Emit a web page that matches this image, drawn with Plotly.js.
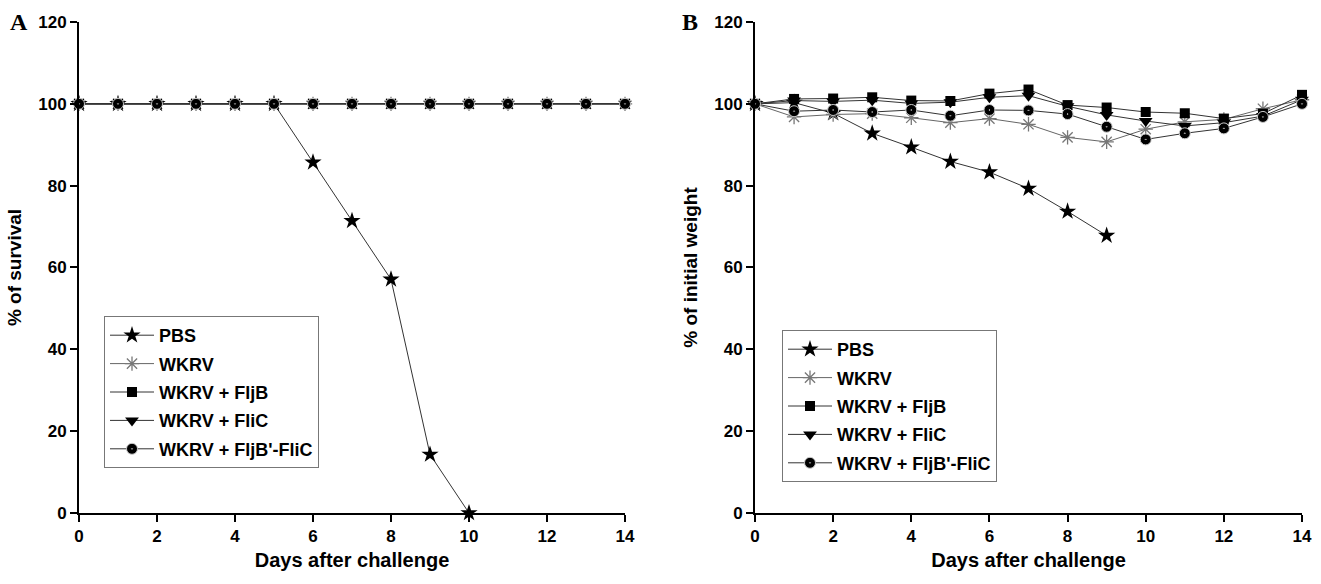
<!DOCTYPE html>
<html><head><meta charset="utf-8">
<script src="https://cdn.plot.ly/plotly-3.0.1.min.js"></script>
<style>body{margin:0;background:#fff}#c{width:1321px;height:584px}</style>
</head><body><div id="c"></div>
<script>
const days = [0,1,2,3,4,5,6,7,8,9,10,11,12,13,14];
const groups = ["PBS","WKRV","WKRV + FljB","WKRV + FliC","WKRV + FljB'-FliC"];
// Panel A: survival (%)
const survPBS   = [100,100,100,100,100,100,85.7,71.4,57.1,14.3,0];
const survWKRV  = [100,100,100,100,100,100,100,100,100,100,100,100,100,100,100];
const survFljB  = [100,100,100,100,100,100,100,100,100,100,100,100,100,100,100];
const survFliC  = [100,100,100,100,100,100,100,100,100,100,100,100,100,100,100];
const survFusion= [100,100,100,100,100,100,100,100,100,100,100,100,100,100,100];
// Panel B: weight (% of initial)
const wPBS    = [100,100.3,97.7,92.8,89.4,85.9,83.3,79.3,73.7,67.8];
const wWKRV   = [100,96.8,97.4,97.6,96.6,95.4,96.4,95.0,91.8,90.7,93.8,95.6,96.2,98.8,101.0];
const wFljB   = [100,101.2,101.3,101.6,100.8,100.7,102.5,103.5,99.7,99.1,98.0,97.7,96.4,97.6,102.2];
const wFliC   = [100,100.8,100.6,100.9,100.1,100.4,101.6,102.0,99.4,97.3,95.8,94.6,95.4,97.0,101.0];
const wFusion = [100,98.2,98.5,98.0,98.5,97.1,98.5,98.4,97.5,94.4,91.3,92.8,94.0,96.8,100.0];

const styles = [
  {symbol:'star', color:'#000', size:13, lc:'#000', lw:0},
  {symbol:'asterisk-open', color:'#777', size:12, lc:'#777', lw:1.3},
  {symbol:'square', color:'#000', size:10, lc:'#000', lw:0},
  {symbol:'triangle-down', color:'#000', size:12, lc:'#000', lw:0},
  {symbol:'circle-dot', color:'#000', size:11, lc:'#ccc', lw:1}
];
const lineCol = ['#333','#666','#333','#333','#333'];

const survData = [survPBS, survWKRV, survFljB, survFliC, survFusion];
const wData = [wPBS, wWKRV, wFljB, wFliC, wFusion];

const traces = [];
function add(ydata, xa, ya, leg, suffix){
  ydata.forEach((ys,i)=>{
    const s = styles[i];
    traces.push({
      x: days.slice(0, ys.length), y: ys, xaxis: xa, yaxis: ya,
      type:'scatter', mode:'lines+markers', name: groups[i],
      legend: leg, legendgroup: suffix+i, cliponaxis:false,
      line:{color: lineCol[i], width:1},
      marker:{symbol:s.symbol, color:s.color, size:s.size, line:{color:s.lc, width:s.lw}}
    });
  });
}
add(survData,'x','y','legend','a');
add(wData,'x2','y2','legend2','b');

const fam = '"Liberation Sans Narrow","Arial Narrow","Liberation Sans",Arial,sans-serif';
const tickfont = {family:fam, size:17, color:'#000', weight:'bold'};
const titlefont = {family:fam, size:20, color:'#000', weight:'bold'};
function xax(dom){return {domain:dom, range:[0,14], dtick:2, tick0:0, showgrid:false, zeroline:false,
  showline:true, linewidth:2, linecolor:'#000', ticks:'outside', ticklen:7, tickwidth:2, tickcolor:'#000',
  tickfont:tickfont, title:{text:'Days after challenge', font:titlefont, standoff:8}, fixedrange:true};}
function yax(title, anchor){return {domain:[0.1216,0.9623], range:[0,120], dtick:20, showgrid:false, zeroline:false,
  showline:true, linewidth:2, linecolor:'#000', ticks:'outside', ticklen:7, tickwidth:2, tickcolor:'#000',
  tickfont:tickfont, title:{text:title, font:{family:fam,size:19,color:'#000',weight:'bold'}, standoff:12}, anchor:anchor};}
const legfont = {family:fam, size:18, color:'#000', weight:'bold'};
const legBase = {xanchor:'left', yanchor:'top', bordercolor:'#777', borderwidth:1,
    font:legfont, traceorder:'grouped', tracegroupgap:2, bgcolor:'#fff', itemwidth:44};
const layout = {
  width:1321, height:584, margin:{l:0,r:0,t:0,b:0}, paper_bgcolor:'#fff', plot_bgcolor:'#fff',
  showlegend:true,
  xaxis: Object.assign(xax([79/1321, 625/1321]), {anchor:'y'}),
  yaxis: yax('% of survival','x'),
  xaxis2: Object.assign(xax([755/1321, 1302/1321]), {anchor:'y2'}),
  yaxis2: yax('% of initial weight','x2'),
  legend: Object.assign({x:104/1321, y:1-316/584}, legBase),
  legend2: Object.assign({x:782/1321, y:1-330/584}, legBase),
  annotations:[
    {text:'<b>A</b>', xref:'paper', yref:'paper', x:8/1321, y:1-22/584, xanchor:'left', yanchor:'middle', showarrow:false,
      font:{family:'"Liberation Serif","Times New Roman",serif', size:24, color:'#000'}},
    {text:'<b>B</b>', xref:'paper', yref:'paper', x:680/1321, y:1-22/584, xanchor:'left', yanchor:'middle', showarrow:false,
      font:{family:'"Liberation Serif","Times New Roman",serif', size:24, color:'#000'}}
  ]
};
Plotly.newPlot('c', traces, layout, {staticPlot:true});
</script></body></html>
